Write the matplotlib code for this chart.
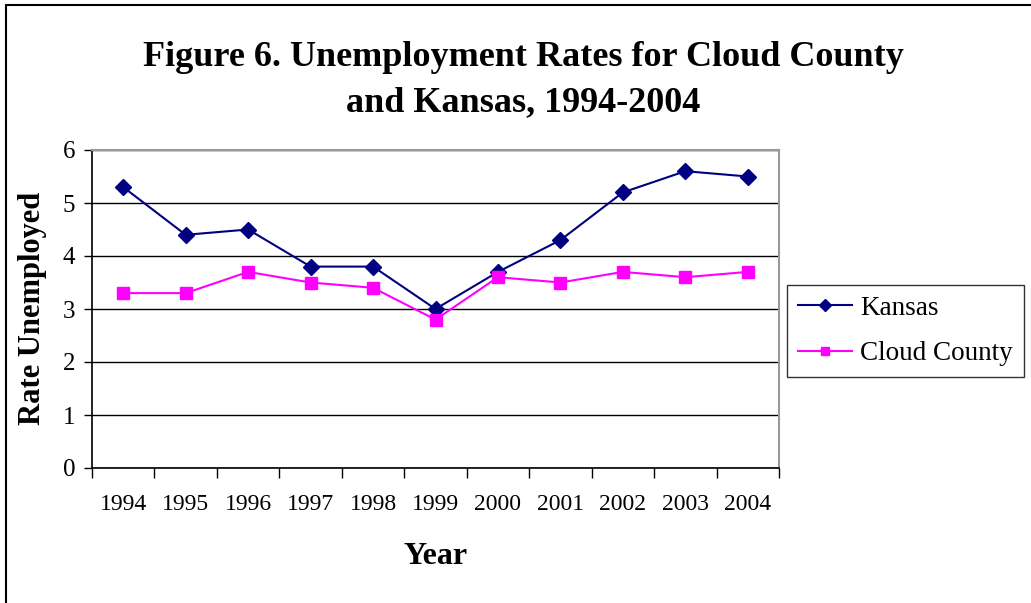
import matplotlib
matplotlib.use("Agg")
import matplotlib.pyplot as plt
from matplotlib.patches import Rectangle
from matplotlib.ticker import FixedLocator

years = ["1994", "1995", "1996", "1997", "1998", "1999", "2000", "2001", "2002", "2003", "2004"]
kansas = [5.3, 4.4, 4.5, 3.8, 3.8, 3.0, 3.7, 4.3, 5.2, 5.6, 5.5]
cloud_county = [3.3, 3.3, 3.7, 3.5, 3.4, 2.8, 3.6, 3.5, 3.7, 3.6, 3.7]
y_ticks = [0, 1, 2, 3, 4, 5, 6]

plt.rcParams['font.family'] = ['Liberation Serif', 'DejaVu Serif']

W, H = 1031, 603
fig = plt.figure(figsize=(W / 100, H / 100), dpi=100)
fig.patch.set_facecolor('white')

# outer chart border
fig.add_artist(Rectangle((6 / W, -0.05), 1.1, 1 - 5 / H + 0.05, transform=fig.transFigure,
                         fill=False, edgecolor='black', linewidth=1.5))

ax = fig.add_axes([92 / W, 1 - 468 / H, (779 - 92) / W, (468 - 150) / H])
x = list(range(len(years)))
ax.plot(x, kansas, color='#000080', marker='D', markersize=8, linewidth=1.5, label='Kansas', zorder=3)
ax.plot(x, cloud_county, color='#FF00FF', marker='s', markersize=8, linewidth=1.5, label='Cloud County', zorder=3)

ax.set_xlim(-0.5, len(years) - 0.5)
ax.set_ylim(0, 6)
ax.set_yticks(y_ticks)
ax.set_xticks(x)
ax.set_xticklabels(years, fontsize=17)
ax.xaxis.set_minor_locator(FixedLocator([i - 0.5 for i in range(len(years) + 1)]))
ax.tick_params(axis='x', which='major', length=0, pad=19)
ax.tick_params(axis='x', which='minor', length=7, width=1, color='black', direction='out')
ax.tick_params(axis='y', length=6, width=1, direction='out', pad=6, labelsize=18)
ax.grid(axis='y', color='black', linewidth=1)
ax.set_axisbelow(True)
for s in ['left', 'bottom']:
    ax.spines[s].set_color('black')
    ax.spines[s].set_linewidth(1.2)
for s in ['top', 'right']:
    ax.spines[s].set_color('#999999')
    ax.spines[s].set_linewidth(1.5)

fig.text(33 / W, 1 - 308 / H, 'Rate Unemployed', rotation=90, ha='center', va='center',
         fontsize=22, fontweight='bold')
fig.text(436 / W, 1 - 556 / H, 'Year', ha='center', va='center', fontsize=23, fontweight='bold')

fig.text(523 / W, 1 - 57 / H, 'Figure 6. Unemployment Rates for Cloud County', ha='center', va='center',
         fontsize=26, fontweight='bold')
fig.text(523 / W, 1 - 103 / H, 'and Kansas, 1994-2004', ha='center', va='center',
         fontsize=26, fontweight='bold')

leg = fig.legend(loc='upper left', bbox_to_anchor=(787 / W, 1 - 285 / H), fontsize=19.5,
                 frameon=True, fancybox=False, edgecolor='black', handlelength=2.0,
                 borderpad=0.4, labelspacing=0.75, handletextpad=0.3, borderaxespad=0,
                 markerscale=0.8)
leg.get_frame().set_linewidth(1)

fig.savefig('out.png', dpi=100)
